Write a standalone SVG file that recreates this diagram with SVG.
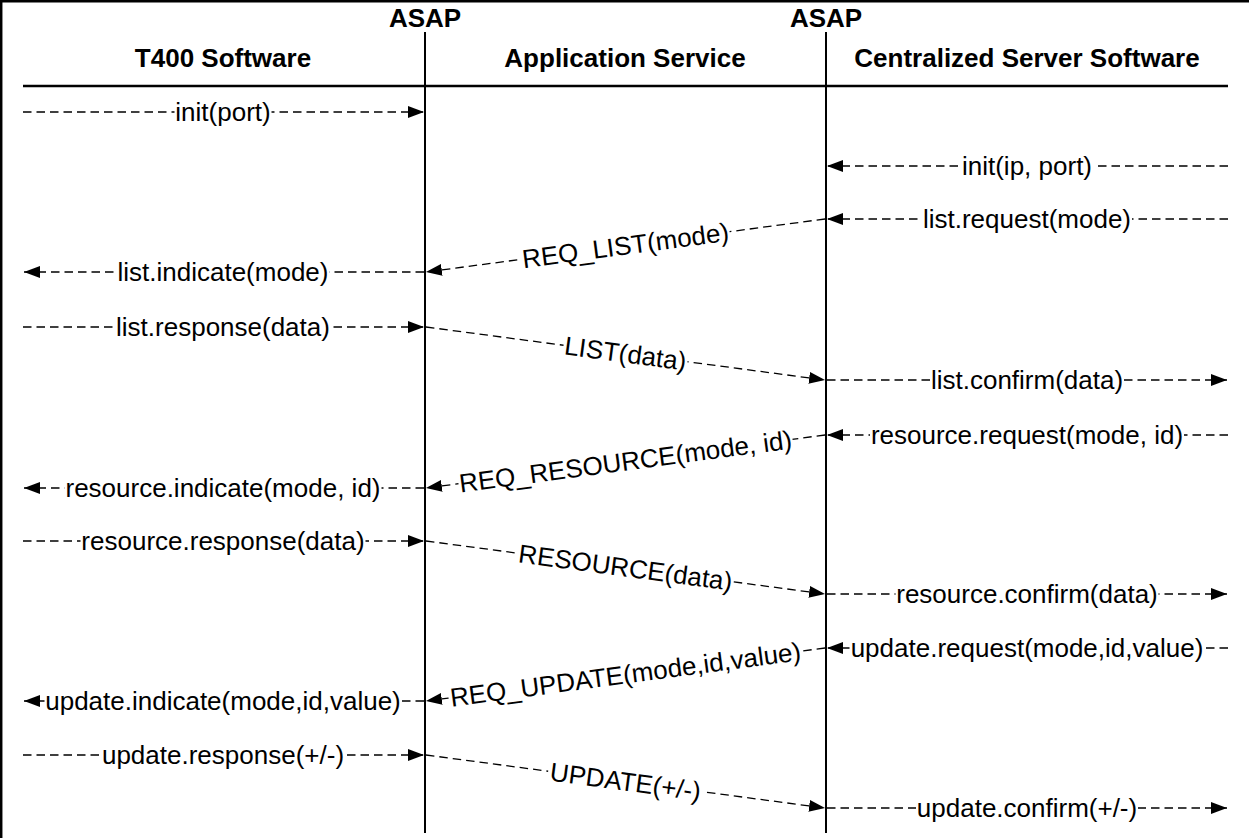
<svg xmlns="http://www.w3.org/2000/svg" width="1249" height="840" viewBox="0 0 1249 840">
  <style>
    .frame { stroke: #000; stroke-width: 2.5; fill: none; }
    .life { stroke: #000; stroke-width: 2; fill: none; }
    .rule { stroke: #000; stroke-width: 2.5; fill: none; }
    .head { font-family: "Liberation Sans", Arial, sans-serif; font-weight: bold; font-size: 26px; fill: #000; text-anchor: middle; }
    .msg { stroke: #000; stroke-width: 1.3; stroke-dasharray: 8.5 5; fill: none; marker-end: url(#arrow); }
    .bg { fill: #fff; }
    .lbl { font-family: "Liberation Sans", Arial, sans-serif; font-size: 26px; fill: #000; text-anchor: middle; }
  </style>
  <defs>
    <marker id="arrow" markerUnits="userSpaceOnUse" markerWidth="17" markerHeight="13" refX="16" refY="6.5" orient="auto">
      <path d="M0,0.5 L16,6.5 L0,12.5 z" fill="#000"/>
    </marker>
  </defs>

  <rect width="1249" height="840" fill="#fff"/>

  <!-- frame: top and left edges -->
  <line class="frame" x1="0" y1="1.2" x2="1249" y2="1.2"/>
  <line class="frame" x1="1.2" y1="0" x2="1.2" y2="838"/>

  <!-- participants -->
  <g id="t400">
    <text class="head" x="223" y="67">T400 Software</text>
  </g>
  <g id="appService">
    <text class="head" x="625" y="67">Application Service</text>
  </g>
  <g id="server">
    <text class="head" x="1027" y="67">Centralized Server Software</text>
  </g>
  <g id="asapLeft">
    <text class="head" x="425" y="27">ASAP</text>
    <line class="life" x1="425" y1="32" x2="425" y2="833"/>
  </g>
  <g id="asapRight">
    <text class="head" x="826" y="27">ASAP</text>
    <line class="life" x1="826" y1="32" x2="826" y2="833"/>
  </g>
  <line class="rule" x1="23" y1="86" x2="1228" y2="86"/>

  <!-- messages: dashed line, white gap for the label, label -->
  <g id="connectors">
    <g id="m1">
      <line class="msg" x1="23" y1="112" x2="424" y2="112"/>
      <rect class="bg" x="174.5" y="106" width="97" height="12"/>
      <text class="lbl" x="223" y="121">init(port)</text>
    </g>
    <g id="m2">
      <line class="msg" x1="1228" y1="166" x2="827" y2="166"/>
      <rect class="bg" x="961" y="160" width="132" height="12"/>
      <text class="lbl" x="1027" y="175">init(ip, port)</text>
    </g>
    <g id="m3">
      <line class="msg" x1="1228" y1="219" x2="827" y2="219"/>
      <rect class="bg" x="922" y="213" width="210" height="12"/>
      <text class="lbl" x="1027" y="228">list.request(mode)</text>
    </g>
    <g id="m4" transform="translate(625.5 245.5) rotate(-7.57)">
      <line class="msg" x1="201.3" y1="0" x2="-201.3" y2="0"/>
      <rect class="bg" x="-105" y="-6" width="210" height="12"/>
      <text class="lbl" x="0" y="9">REQ_LIST(mode)</text>
    </g>
    <g id="m5">
      <line class="msg" x1="424" y1="272" x2="24" y2="272"/>
      <rect class="bg" x="116.5" y="266" width="213" height="12"/>
      <text class="lbl" x="223" y="281">list.indicate(mode)</text>
    </g>
    <g id="m6">
      <line class="msg" x1="23" y1="327" x2="424" y2="327"/>
      <rect class="bg" x="115" y="321" width="216" height="12"/>
      <text class="lbl" x="223" y="336">list.response(data)</text>
    </g>
    <g id="m7" transform="translate(625.5 353.5) rotate(7.57)">
      <line class="msg" x1="-201.3" y1="0" x2="201.3" y2="0"/>
      <rect class="bg" x="-62.5" y="-6" width="125" height="12"/>
      <text class="lbl" x="0" y="9">LIST(data)</text>
    </g>
    <g id="m8">
      <line class="msg" x1="827" y1="380" x2="1227" y2="380"/>
      <rect class="bg" x="930" y="374" width="194" height="12"/>
      <text class="lbl" x="1027" y="389">list.confirm(data)</text>
    </g>
    <g id="m9">
      <line class="msg" x1="1228" y1="435" x2="827" y2="435"/>
      <rect class="bg" x="870" y="429" width="314" height="12"/>
      <text class="lbl" x="1027" y="444">resource.request(mode, id)</text>
    </g>
    <g id="m10" transform="translate(625.5 461.5) rotate(-7.57)">
      <line class="msg" x1="201.3" y1="0" x2="-201.3" y2="0"/>
      <rect class="bg" x="-168.5" y="-6" width="337" height="12"/>
      <text class="lbl" x="0" y="9">REQ_RESOURCE(mode, id)</text>
    </g>
    <g id="m11">
      <line class="msg" x1="424" y1="488" x2="24" y2="488"/>
      <rect class="bg" x="64.5" y="482" width="317" height="12"/>
      <text class="lbl" x="223" y="497">resource.indicate(mode, id)</text>
    </g>
    <g id="m12">
      <line class="msg" x1="23" y1="541" x2="424" y2="541"/>
      <rect class="bg" x="80.5" y="535" width="285" height="12"/>
      <text class="lbl" x="223" y="550">resource.response(data)</text>
    </g>
    <g id="m13" transform="translate(625.5 567.5) rotate(7.57)">
      <line class="msg" x1="-201.3" y1="0" x2="201.3" y2="0"/>
      <rect class="bg" x="-108.5" y="-6" width="217" height="12"/>
      <text class="lbl" x="0" y="9">RESOURCE(data)</text>
    </g>
    <g id="m14">
      <line class="msg" x1="827" y1="594" x2="1227" y2="594"/>
      <rect class="bg" x="895.5" y="588" width="263" height="12"/>
      <text class="lbl" x="1027" y="603">resource.confirm(data)</text>
    </g>
    <g id="m15">
      <line class="msg" x1="1228" y1="648" x2="827" y2="648"/>
      <rect class="bg" x="849.5" y="642" width="355" height="12"/>
      <text class="lbl" x="1027" y="657">update.request(mode,id,value)</text>
    </g>
    <g id="m16" transform="translate(625.5 674.5) rotate(-7.57)">
      <line class="msg" x1="201.3" y1="0" x2="-201.3" y2="0"/>
      <rect class="bg" x="-178.5" y="-6" width="357" height="12"/>
      <text class="lbl" x="0" y="9">REQ_UPDATE(mode,id,value)</text>
    </g>
    <g id="m17">
      <line class="msg" x1="424" y1="701" x2="24" y2="701"/>
      <rect class="bg" x="44.5" y="695" width="357" height="12"/>
      <text class="lbl" x="223" y="710">update.indicate(mode,id,value)</text>
    </g>
    <g id="m18">
      <line class="msg" x1="23" y1="755" x2="424" y2="755"/>
      <rect class="bg" x="101" y="749" width="244" height="12"/>
      <text class="lbl" x="223" y="764">update.response(+/-)</text>
    </g>
    <g id="m19" transform="translate(625.5 781.5) rotate(7.57)">
      <line class="msg" x1="-201.3" y1="0" x2="201.3" y2="0"/>
      <rect class="bg" x="-78" y="-6" width="156" height="12"/>
      <text class="lbl" x="0" y="9">UPDATE(+/-)</text>
    </g>
    <g id="m20">
      <line class="msg" x1="827" y1="808" x2="1227" y2="808"/>
      <rect class="bg" x="916" y="802" width="222" height="12"/>
      <text class="lbl" x="1027" y="817">update.confirm(+/-)</text>
    </g>
  </g>
</svg>
